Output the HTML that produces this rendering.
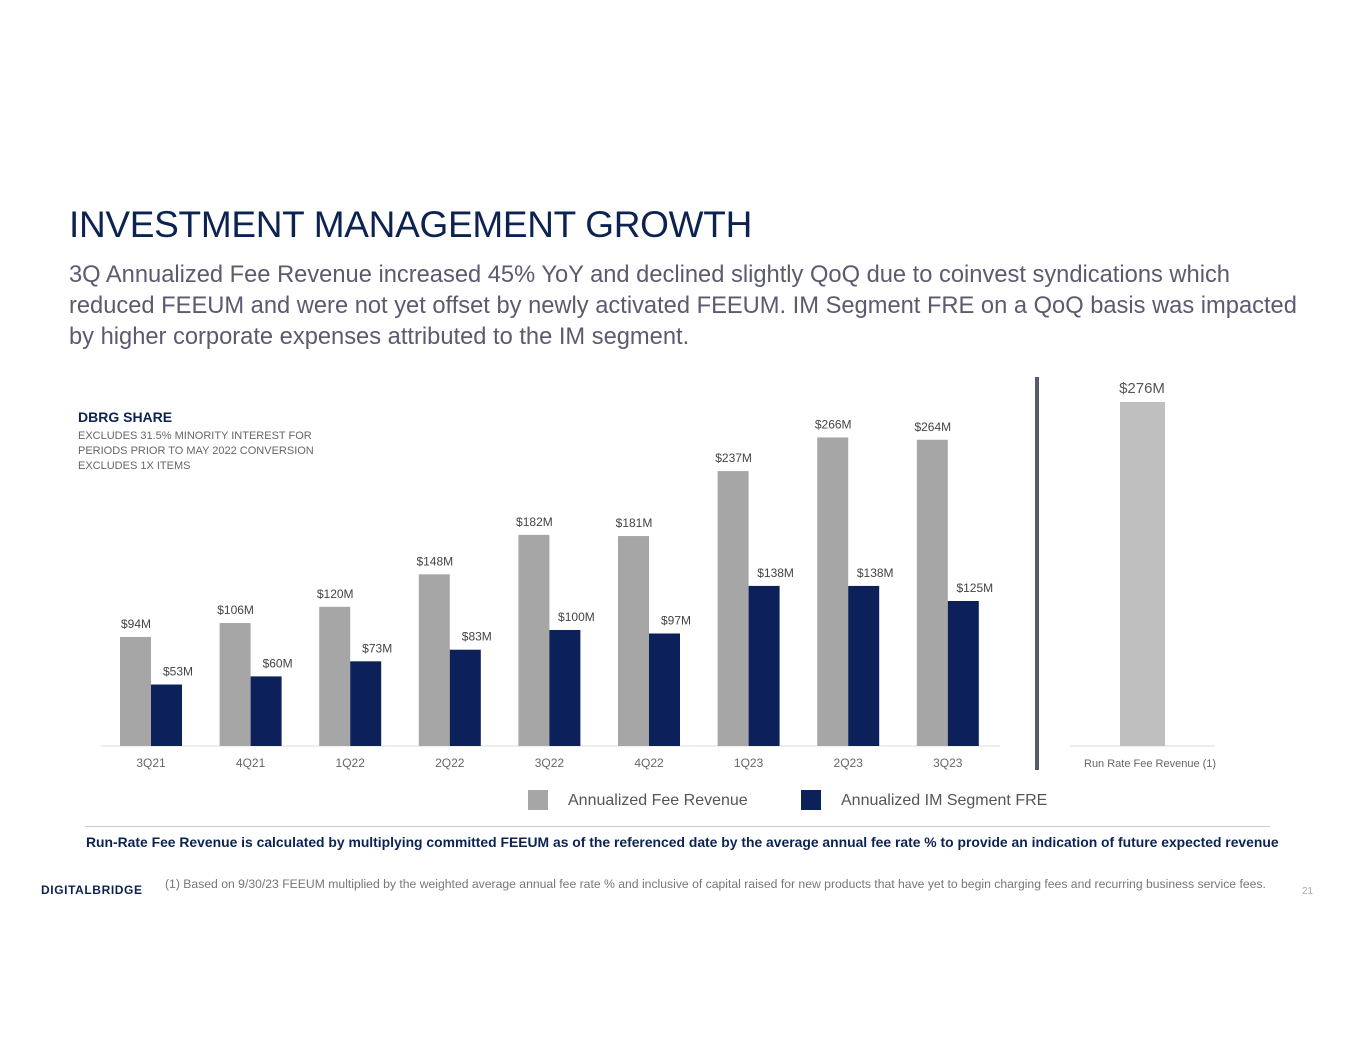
<!DOCTYPE html>
<html><head><meta charset="utf-8"><style>
body{margin:0;width:1365px;height:1055px;background:#fff;font-family:"Liberation Sans",sans-serif;position:relative;overflow:hidden}
.a{position:absolute;white-space:nowrap}
</style></head><body>
<div class="a" style="left:69px;top:204px;font-size:37px;color:#0c2352;letter-spacing:-0.3px">INVESTMENT MANAGEMENT GROWTH</div>
<div class="a" style="left:69px;top:260px;font-size:23.7px;line-height:31px;color:#5b5b70">3Q Annualized Fee Revenue increased 45% YoY and declined slightly QoQ due to coinvest syndications which<br>reduced FEEUM and were not yet offset by newly activated FEEUM. IM Segment FRE on a QoQ basis was impacted<br>by higher corporate expenses attributed to the IM segment.</div>
<div class="a" style="left:78px;top:409px;color:#0c2352;font-size:14px;font-weight:bold">DBRG SHARE</div>
<div class="a" style="left:78px;top:429px;color:#666;font-size:11px;line-height:15px">EXCLUDES 31.5% MINORITY INTEREST FOR<br>PERIODS PRIOR TO MAY 2022 CONVERSION<br>EXCLUDES 1X ITEMS</div>
<svg id="c" class="a" style="left:0;top:0" width="1365" height="1055"></svg>
<div class="a" style="left:528px;top:790px;width:20px;height:20px;background:#a6a6a6"></div>
<div class="a" style="left:568px;top:792px;font-size:16px;color:#555">Annualized Fee Revenue</div>
<div class="a" style="left:801px;top:790px;width:20px;height:20px;background:#0c2159"></div>
<div class="a" style="left:841px;top:792px;font-size:16px;color:#555">Annualized IM Segment FRE</div>
<div class="a" style="left:85px;top:826px;width:1185px;height:1px;background:#ccc"></div>
<div class="a" style="left:86px;top:834px;font-size:13.9px;font-weight:bold;color:#0c2352">Run-Rate Fee Revenue is calculated by multiplying committed FEEUM as of the referenced date by the average annual fee rate % to provide an indication of future expected revenue</div>
<div class="a" style="left:41px;top:883px;font-size:12px;font-weight:bold;color:#0c2352;letter-spacing:0.6px">DIGITALBRIDGE</div>
<div class="a" style="left:165px;top:877px;font-size:12.2px;color:#777">(1) Based on 9/30/23 FEEUM multiplied by the weighted average annual fee rate % and inclusive of capital raised for new products that have yet to begin charging fees and recurring business service fees.</div>
<div class="a" style="left:1302px;top:886px;font-size:10px;color:#aaa">21</div>
<script>
const categories=["3Q21","4Q21","1Q22","2Q22","3Q22","4Q22","1Q23","2Q23","3Q23"];
const feeRevenue=[94,106,120,148,182,181,237,266,264];
const imFre=[53,60,73,83,100,97,138,138,125];
const runRateLabel="Run Rate Fee Revenue";
const runRateValue=[276];
const svg=document.getElementById('c');const NS="http://www.w3.org/2000/svg";
function mk(t,a,txt){const e=document.createElementNS(NS,t);for(const k in a)e.setAttribute(k,a[k]);if(txt!=null)e.textContent=txt;svg.appendChild(e);return e;}
const base=746,sc=1.16;
const x=i=>151+i*99.6;
const y=v=>base-v*sc;
let l=mk('line',{x1:101,x2:1000,y1:base,y2:base,stroke:'#ddd','stroke-width':1});


categories.forEach((c,i)=>{
 let r=mk('rect',{x:x(i)-31,y:y(feeRevenue[i]),width:31,height:feeRevenue[i]*sc,fill:'#a6a6a6'});
 
 
 let r2=mk('rect',{x:x(i),y:y(imFre[i]),width:31,height:imFre[i]*sc,fill:'#0c2159'});
 
 
 let t=mk('text',{x:x(i)-15,y:y(feeRevenue[i])-9,'text-anchor':'middle','font-size':12,fill:'#444'},'$'+feeRevenue[i]+'M');
 
 
 let t2=mk('text',{x:x(i)+27,y:y(imFre[i])-9,'text-anchor':'middle','font-size':12,fill:'#444'},'$'+imFre[i]+'M');
 
 
 let t3=mk('text',{x:x(i),y:767,'text-anchor':'middle','font-size':12,fill:'#666'},c);
 
 
});
let d=mk('rect',{x:1035,y:377,width:4,height:393,fill:'#555a66'});


const sc2=(746-402)/276;
let l2=mk('line',{x1:1070,x2:1215,y1:base,y2:base,stroke:'#ddd','stroke-width':1});


let rb=mk('rect',{x:1120,y:base-runRateValue[0]*sc2,width:45,height:runRateValue[0]*sc2,fill:'#bfbfbf'});


let rt=mk('text',{x:1142,y:base-runRateValue[0]*sc2-9,'text-anchor':'middle','font-size':15,fill:'#555'},'$'+runRateValue[0]+'M');


let rx=mk('text',{x:1084,y:767,'font-size':11,fill:'#666'},runRateLabel+'  (1)');


</script>
</body></html>
